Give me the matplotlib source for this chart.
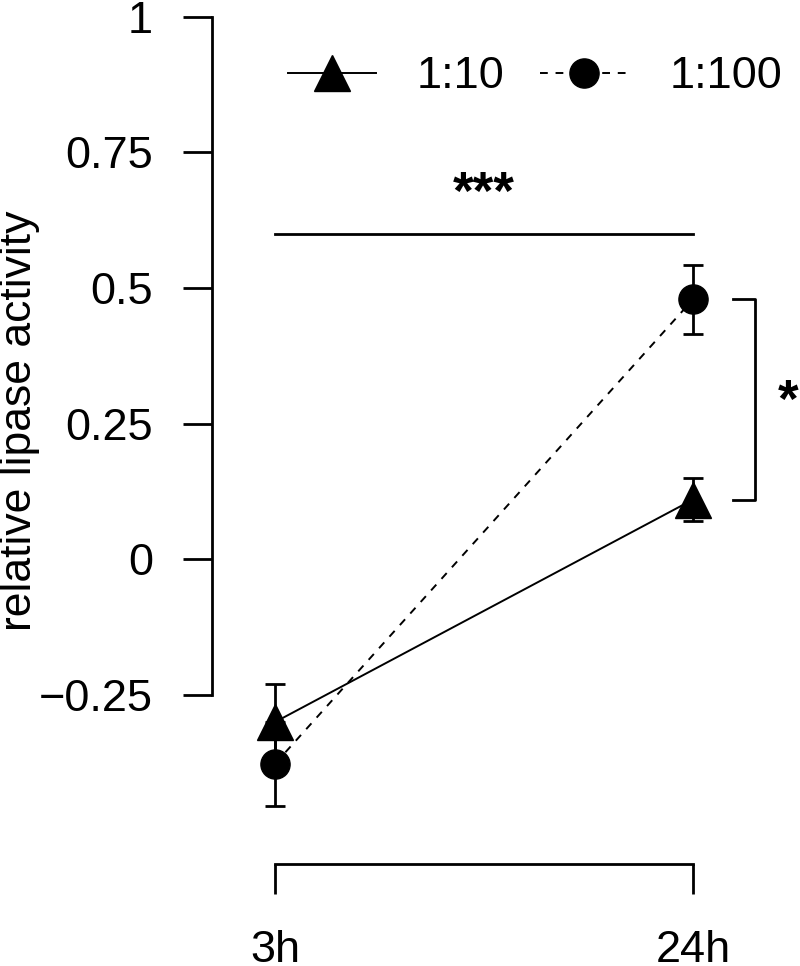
import numpy as np
import matplotlib.pyplot as plt
from matplotlib.lines import Line2D

plt.rcParams['font.family'] = ['Liberation Sans', 'DejaVu Sans']

# data
times = ['3h', '24h']
ratio_10 = [-0.30, 0.11]
err_10 = [0.07, 0.04]
ratio_100 = [-0.377, 0.479]
err_100 = [0.077, 0.063]
yticks = [-0.25, 0, 0.25, 0.5, 0.75, 1]
ytick_labels = ['\u22120.25', '0', '0.25', '0.5', '0.75', '1']

x = np.arange(len(times))
fs = 32.5
lw = 2.0

fig = plt.figure(figsize=(8, 9.66), dpi=100)
ax = fig.add_axes([212 / 800, 102 / 966, 588 / 800, 847.3 / 966])
ax.set_xlim(-0.1507, 1.256)
ax.set_ylim(-0.5616, 1.0)

# series
ax.errorbar(x, ratio_10, yerr=err_10, color='black', marker='^', markersize=26,
            lw=1.4, elinewidth=lw, capsize=7.2, capthick=lw, clip_on=False, zorder=3)
ax.errorbar(x, ratio_100, yerr=err_100, color='black', marker='o', markersize=21,
            lw=1.4, ls=(0, (4, 4)), elinewidth=lw, capsize=7.2, capthick=lw,
            clip_on=False, zorder=3)

# significance marks
ax.plot([0, 1], [0.6, 0.6], color='black', lw=lw)
ax.text(0.5, 0.672, '***', ha='center', va='center', fontsize=38, fontweight='bold')
ax.plot([1.096, 1.148, 1.148, 1.096], [ratio_100[1], ratio_100[1], ratio_10[1], ratio_10[1]],
        color='black', lw=lw, clip_on=False)
ax.text(1.227, 0.288, '*', ha='center', va='center', fontsize=38, fontweight='bold')

# axes styling
for s in ['top', 'right']:
    ax.spines[s].set_visible(False)
ax.spines['left'].set_bounds(-0.25, 1)
ax.spines['bottom'].set_bounds(0, 1)
ax.spines['left'].set_linewidth(lw)
ax.spines['bottom'].set_linewidth(lw)
ax.set_yticks(yticks)
ax.set_yticklabels(ytick_labels)
ax.set_xticks(x)
ax.set_xticklabels(times)
ax.tick_params(axis='y', length=21, width=lw, pad=21.5, labelsize=fs)
ax.tick_params(axis='x', length=21.5, width=lw, pad=26, labelsize=fs)

fig.text(20 / 800, 1 - 421 / 966, 'relative lipase activity', rotation=90,
         ha='center', va='center', fontsize=32)

# legend
handles = [Line2D([], [], color='black', marker='^', markersize=26, lw=1.4),
           Line2D([], [], color='black', marker='o', markersize=21, lw=1.4, ls=(0, (4, 4)))]
fig.legend(handles, ['1:10', '1:100'], ncol=2, frameon=False, fontsize=fs,
           loc='center left', bbox_to_anchor=(287.5 / 800, 1 - 77 / 966),
           borderpad=0, borderaxespad=0, handlelength=1.95, handletextpad=0.92,
           columnspacing=0.79)

fig.savefig('out.png', dpi=100)
